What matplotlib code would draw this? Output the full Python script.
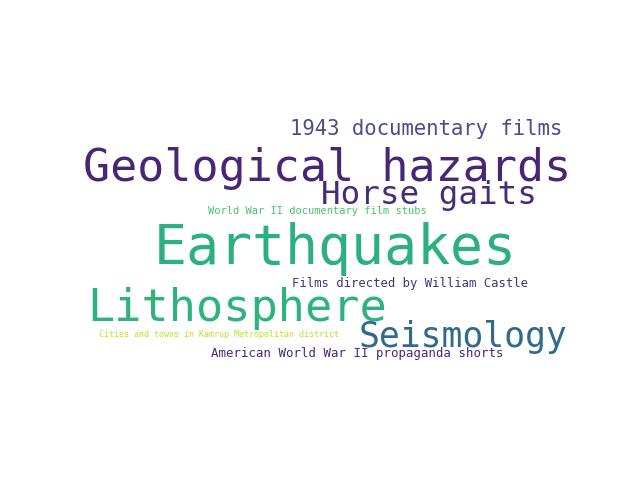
import matplotlib
matplotlib.use("Agg")
import matplotlib.pyplot as plt

# words of the cloud, biggest first
words = [
    "Earthquakes",
    "Geological hazards",
    "Lithosphere",
    "Seismology",
    "Horse gaits",
    "1943 documentary films",
    "Films directed by William Castle",
    "American World War II propaganda shorts",
    "World War II documentary film stubs",
    "Cities and towns in Kamrup Metropolitan district",
]

# layout (pixels from top left, baseline)
pos_x = [154, 83, 87, 359, 321, 290, 292, 211, 208, 99]
pos_y = [264, 181, 321, 347, 204, 135, 287, 357, 214, 337]
sizes = [39.5, 32.4, 32.6, 25.0, 23.4, 14.9, 8.8, 8.9, 7.5, 6.0]
colors = ["#2cb07f", "#482576", "#2eb37c", "#32698e", "#472c7a",
          "#464f8a", "#46337e", "#482878", "#4cc26c", "#c2df23"]

fig = plt.figure(figsize=(6.4, 4.8), dpi=100)
ax = fig.add_axes([0, 0, 1, 1])
ax.set_xlim(0, 640)
ax.set_ylim(480, 0)
ax.axis("off")

for w, x, y, s, c in zip(words, pos_x, pos_y, sizes, colors):
    ax.text(x, y, w, fontsize=s, color=c, family="DejaVu Sans Mono",
            ha="left", va="baseline")

fig.savefig("out.png", dpi=100, facecolor="white")
